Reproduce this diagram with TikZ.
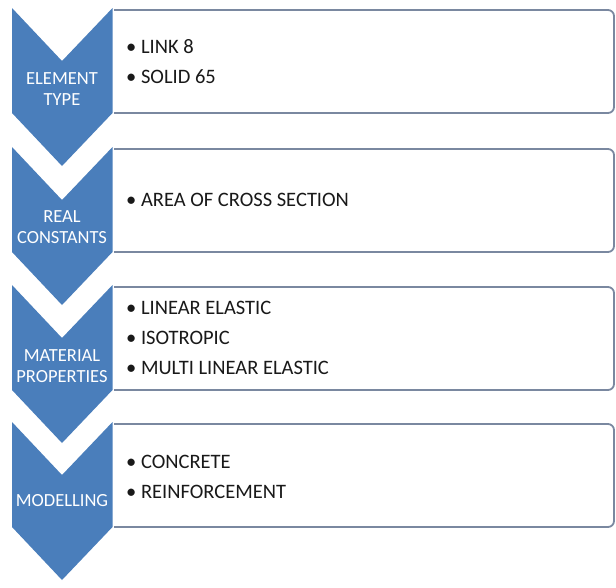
\documentclass[tikz,border=0pt]{standalone}
\usepackage{fontspec}
\setmainfont{Carlito}
\definecolor{chevblue}{RGB}{74,126,187}
\definecolor{boxline}{RGB}{122,136,160}
\definecolor{itemtext}{RGB}{25,25,25}
\begin{document}
\begin{tikzpicture}[x=1pt,y=-1pt,
  chev/.style={fill=chevblue},
  lbl/.style={text=white, font=\fontsize{18.5}{21.5}\selectfont, align=center, inner sep=0pt},
  card/.style={draw=boxline, line width=1.8pt, fill=white, rounded corners=6pt},
  items/.style={anchor=west, align=left, font=\fontsize{20.5}{30}\selectfont, text=itemtext, inner sep=0pt}]
\useasboundingbox (0,0) rectangle (616,587);
% boxes
\foreach \t in {8,147,285,422}{
  \path[card] (114,\t+2) -- (614,\t+2) -- (614,\t+105) -- (114,\t+105);
}
% chevrons
\foreach \t in {8,147,285,422}{
  \fill[chev] (12,\t) -- (62,\t+53) -- (112.5,\t) -- (112.5,\t+105) -- (62,\t+158) -- (12,\t+105) -- cycle;
}
% chevron labels
\node[lbl] (l1) at (62,89) {ELEMENT\\TYPE};
\node[lbl] (l2) at (62,227) {REAL\\CONSTANTS};
\node[lbl] (l3) at (62,366) {MATERIAL\\PROPERTIES};
\node[lbl] (l4) at (62,501) {MODELLING};
% items
\node[items] (i1) at (126,62) {• LINK 8\\• SOLID 65};
\node[items] (i2) at (126,200) {• AREA OF CROSS SECTION};
\node[items] (i3) at (126,338) {• LINEAR ELASTIC\\• ISOTROPIC\\• MULTI LINEAR ELASTIC};
\node[items] (i4) at (126,477) {• CONCRETE\\• REINFORCEMENT};
\end{tikzpicture}
\end{document}
